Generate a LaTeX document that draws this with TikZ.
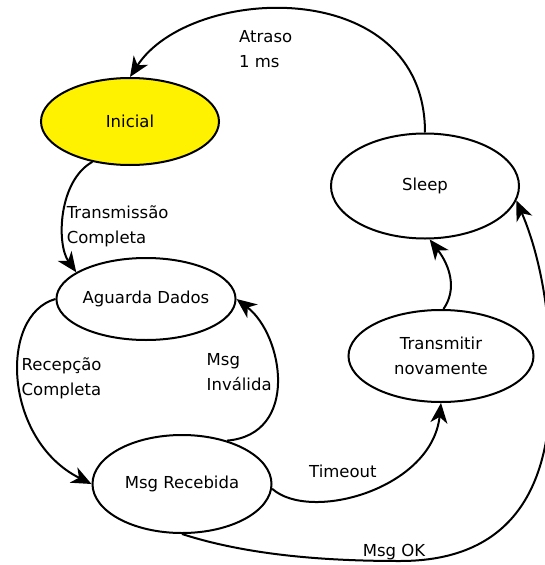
\documentclass[tikz,border=0pt]{standalone}
\usepackage{fontspec}
\setmainfont{DejaVu Sans}
\usetikzlibrary{shapes.geometric,arrows.meta}
\begin{document}
\begin{tikzpicture}[x=1pt,y=-1pt,
  state/.style={ellipse,draw,line width=2pt,inner sep=0pt,align=center,font=\fontsize{16.5}{25}\selectfont},
  lbl/.style={inner sep=0pt,align=left,anchor=west,font=\fontsize{16.5}{25}\selectfont},
  conn/.style={line width=2pt,-{Stealth[length=20pt,width=17pt,inset=6pt]}}
]
\useasboundingbox (0,0) rectangle (544,565);
\node[state,fill=yellow,minimum width=178pt,minimum height=87pt] (ini) at (130,121.5) {Inicial};
\node[state,minimum width=188pt,minimum height=105pt] (sleep) at (425,186) {Sleep};
\node[state,minimum width=178pt,minimum height=82pt] (ag) at (146,299) {Aguarda Dados};
\node[state,minimum width=185pt,minimum height=92pt] (tr) at (441,356) {Transmitir\\novamente};
\node[state,minimum width=179pt,minimum height=98pt] (mr) at (182,484) {Msg Recebida};
\coordinate (okb) at (400,561);
\coordinate (okr) at (550,370);

\draw[conn] (sleep.north) .. controls +(0,-158.5) and +(60,-93) .. (ini.north);
\draw[conn] (ini.227) .. controls +(-34,19) and +(-20,-28) .. (ag.159);
\draw[conn] (ag.west) .. controls +(-57,16) and +(-88,-44) .. (mr.west);
\draw[conn] (mr.44) .. controls +(73,-6) and +(47,36) .. (ag.east);
\draw[conn] (mr.357) .. controls +(38,34) and +(-9,86) .. (tr.south);
\draw[conn] (mr.south) .. controls +(68,22) and +(-70,0) .. (okb) .. controls +(110,0) and +(5,120) .. (okr) .. controls +(0,-70) and +(19.4,45) .. (sleep.351);
\draw[conn] (tr.87) .. controls +(14,-20) and +(20,26) .. (sleep.275);

\node[lbl] (lat) at (239,49) {Atraso\\1 ms};
\node[lbl] (ltc) at (66.6,226.5) {Transmissão\\Completa};
\node[lbl] (lrc) at (21.5,378.5) {Recepção\\Completa};
\node[lbl] (lmi) at (206.5,372) {Msg\\Inválida};
\node[lbl] (lto) at (309,471) {Timeout};
\node[lbl] (lok) at (362.6,552) {Msg OK};
\end{tikzpicture}
\end{document}
